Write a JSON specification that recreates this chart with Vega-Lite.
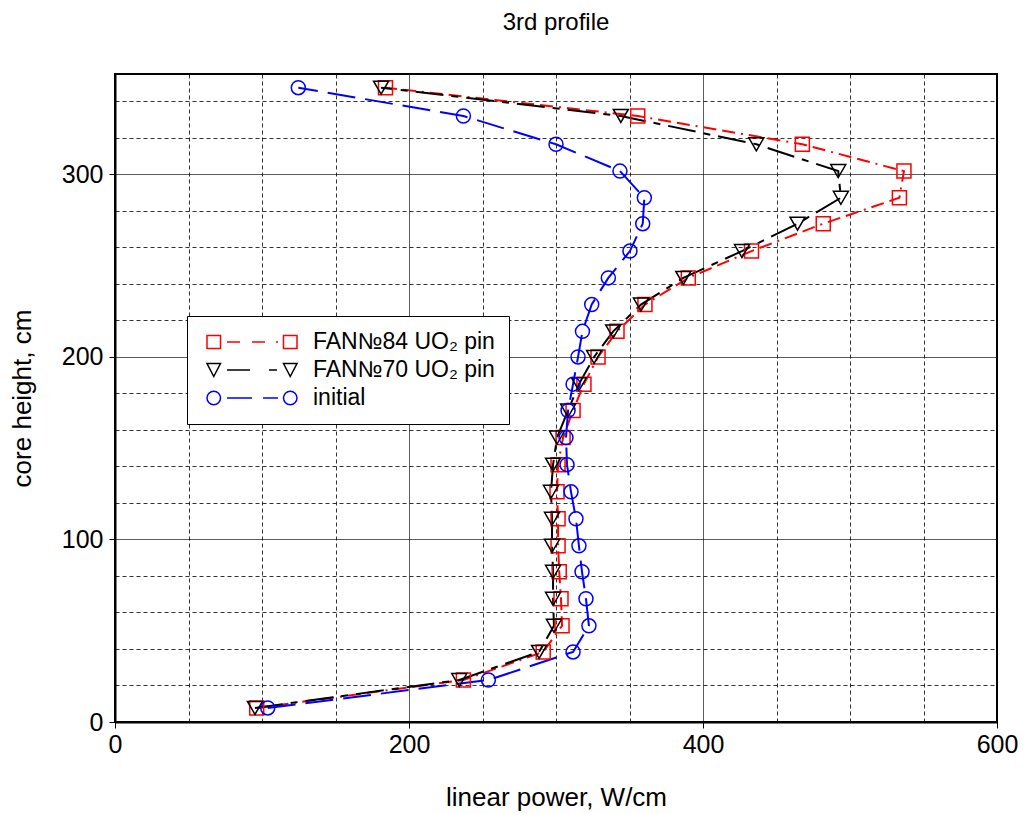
{
  "$schema": "https://vega.github.io/schema/vega-lite/v6.json",
  "width": 882,
  "height": 648,
  "autosize": {"type": "none"},
  "padding": {"left": 115, "top": 74, "right": 27, "bottom": 92},
  "background": "white",
  "title": {"text": "3rd profile", "fontSize": 24, "font": "Liberation Sans", "fontWeight": "normal", "anchor": "middle", "baseline": "bottom", "offset": 15, "color": "black"},
  "config": {
    "view": {"stroke": "black", "strokeWidth": 2},
    "axis": {
      "labelFont": "Liberation Sans", "labelFontSize": 25, "labelColor": "black",
      "titleFont": "Liberation Sans", "titleFontSize": 26, "titleFontWeight": "normal", "titleColor": "black",
      "domainColor": "black", "domainWidth": 2, "tickColor": "black", "tickWidth": 1,
      "gridColor": "black", "gridWidth": 1, "gridOpacity": 0.8,
      "labelFlush": false, "labelOverlap": false
    }
  },
  "datasets": {
    "profile": [
      {"series": "FAN№84 UO₂ pin", "height": 7.7, "power": 96.4},
      {"series": "FAN№84 UO₂ pin", "height": 23.0, "power": 237.0},
      {"series": "FAN№84 UO₂ pin", "height": 38.4, "power": 291.3},
      {"series": "FAN№84 UO₂ pin", "height": 52.7, "power": 304.1},
      {"series": "FAN№84 UO₂ pin", "height": 67.5, "power": 303.4},
      {"series": "FAN№84 UO₂ pin", "height": 82.3, "power": 302.2},
      {"series": "FAN№84 UO₂ pin", "height": 96.5, "power": 301.4},
      {"series": "FAN№84 UO₂ pin", "height": 111.3, "power": 301.4},
      {"series": "FAN№84 UO₂ pin", "height": 126.1, "power": 300.7},
      {"series": "FAN№84 UO₂ pin", "height": 141.0, "power": 301.4},
      {"series": "FAN№84 UO₂ pin", "height": 155.8, "power": 304.8},
      {"series": "FAN№84 UO₂ pin", "height": 170.6, "power": 311.6},
      {"series": "FAN№84 UO₂ pin", "height": 185.1, "power": 319.0},
      {"series": "FAN№84 UO₂ pin", "height": 200.0, "power": 328.6},
      {"series": "FAN№84 UO₂ pin", "height": 214.0, "power": 341.5},
      {"series": "FAN№84 UO₂ pin", "height": 228.7, "power": 360.5},
      {"series": "FAN№84 UO₂ pin", "height": 243.3, "power": 390.0},
      {"series": "FAN№84 UO₂ pin", "height": 258.0, "power": 433.0},
      {"series": "FAN№84 UO₂ pin", "height": 273.0, "power": 481.8},
      {"series": "FAN№84 UO₂ pin", "height": 287.2, "power": 533.6},
      {"series": "FAN№84 UO₂ pin", "height": 301.8, "power": 536.7},
      {"series": "FAN№84 UO₂ pin", "height": 316.5, "power": 467.6},
      {"series": "FAN№84 UO₂ pin", "height": 332.0, "power": 355.6},
      {"series": "FAN№84 UO₂ pin", "height": 347.5, "power": 184.0},
      {"series": "FAN№70 UO₂ pin", "height": 7.7, "power": 95.2},
      {"series": "FAN№70 UO₂ pin", "height": 23.0, "power": 234.2},
      {"series": "FAN№70 UO₂ pin", "height": 38.4, "power": 288.5},
      {"series": "FAN№70 UO₂ pin", "height": 52.7, "power": 298.6},
      {"series": "FAN№70 UO₂ pin", "height": 67.5, "power": 298.0},
      {"series": "FAN№70 UO₂ pin", "height": 82.3, "power": 298.0},
      {"series": "FAN№70 UO₂ pin", "height": 96.5, "power": 297.3},
      {"series": "FAN№70 UO₂ pin", "height": 111.3, "power": 297.3},
      {"series": "FAN№70 UO₂ pin", "height": 126.1, "power": 296.6},
      {"series": "FAN№70 UO₂ pin", "height": 141.0, "power": 298.0},
      {"series": "FAN№70 UO₂ pin", "height": 155.8, "power": 300.7},
      {"series": "FAN№70 UO₂ pin", "height": 170.6, "power": 308.2},
      {"series": "FAN№70 UO₂ pin", "height": 185.1, "power": 315.6},
      {"series": "FAN№70 UO₂ pin", "height": 200.0, "power": 325.9},
      {"series": "FAN№70 UO₂ pin", "height": 214.0, "power": 338.9},
      {"series": "FAN№70 UO₂ pin", "height": 228.7, "power": 357.8},
      {"series": "FAN№70 UO₂ pin", "height": 243.3, "power": 386.6},
      {"series": "FAN№70 UO₂ pin", "height": 258.0, "power": 426.5},
      {"series": "FAN№70 UO₂ pin", "height": 273.0, "power": 464.3},
      {"series": "FAN№70 UO₂ pin", "height": 287.2, "power": 493.8},
      {"series": "FAN№70 UO₂ pin", "height": 301.8, "power": 492.0},
      {"series": "FAN№70 UO₂ pin", "height": 316.5, "power": 436.3},
      {"series": "FAN№70 UO₂ pin", "height": 332.0, "power": 344.1},
      {"series": "FAN№70 UO₂ pin", "height": 347.5, "power": 181.0},
      {"series": "initial", "height": 7.7, "power": 103.9},
      {"series": "initial", "height": 23.0, "power": 254.0},
      {"series": "initial", "height": 38.4, "power": 311.6},
      {"series": "initial", "height": 52.7, "power": 322.4},
      {"series": "initial", "height": 67.5, "power": 320.4},
      {"series": "initial", "height": 82.3, "power": 317.7},
      {"series": "initial", "height": 96.5, "power": 315.6},
      {"series": "initial", "height": 111.3, "power": 313.6},
      {"series": "initial", "height": 126.1, "power": 310.2},
      {"series": "initial", "height": 141.0, "power": 307.5},
      {"series": "initial", "height": 155.8, "power": 306.8},
      {"series": "initial", "height": 170.6, "power": 308.2},
      {"series": "initial", "height": 185.1, "power": 311.6},
      {"series": "initial", "height": 200.0, "power": 315.0},
      {"series": "initial", "height": 214.0, "power": 318.0},
      {"series": "initial", "height": 228.7, "power": 324.3},
      {"series": "initial", "height": 243.3, "power": 335.6},
      {"series": "initial", "height": 258.0, "power": 350.3},
      {"series": "initial", "height": 273.0, "power": 359.0},
      {"series": "initial", "height": 287.2, "power": 360.1},
      {"series": "initial", "height": 301.8, "power": 343.5},
      {"series": "initial", "height": 316.5, "power": 300.0},
      {"series": "initial", "height": 332.0, "power": 237.0},
      {"series": "initial", "height": 347.5, "power": 124.7}
    ]
  },
  "data": {"name": "profile"},
  "encoding": {
    "x": {
      "field": "power", "type": "quantitative",
      "scale": {"domain": [0, 600], "nice": false, "zero": false},
      "axis": {
        "title": "linear power, W/cm",
        "values": [0, 50, 100, 150, 200, 250, 300, 350, 400, 450, 500, 550, 600],
        "labelExpr": "datum.value % 200 === 0 ? datum.label : ''",
        "grid": true,
        "gridDash": {"condition": {"test": "datum.value % 200 === 0", "value": [1, 0]}, "value": [4, 3]},
        "tickSize": {"condition": {"test": "datum.value % 200 === 0", "value": 6}, "value": 0},
        "labelPadding": 4,
        "titlePadding": 27
      }
    },
    "y": {
      "field": "height", "type": "quantitative",
      "scale": {"domain": [0, 355], "nice": false, "zero": false},
      "axis": {
        "title": "core height, cm",
        "values": [0, 20, 40, 60, 80, 100, 120, 140, 160, 180, 200, 220, 240, 260, 280, 300, 320, 340],
        "labelExpr": "datum.value % 100 === 0 ? datum.label : ''",
        "grid": true,
        "gridDash": {"condition": {"test": "datum.value % 100 === 0", "value": [1, 0]}, "value": [4, 3]},
        "tickSize": {"condition": {"test": "datum.value % 100 === 0", "value": 6}, "value": 0},
        "labelPadding": 6,
        "titlePadding": 26
      }
    }
  },
  "layer": [
    {
      "transform": [{"filter": {"field": "series", "equal": "FAN№84 UO₂ pin"}}],
      "mark": {"type": "line", "color": "red", "strokeWidth": 2, "strokeDash": [13, 6, 13, 6, 2, 6]},
      "encoding": {"order": {"field": "height", "type": "quantitative"}}
    },
    {
      "transform": [{"filter": {"field": "series", "equal": "FAN№70 UO₂ pin"}}],
      "mark": {"type": "line", "color": "black", "strokeWidth": 2, "strokeDash": [28, 8, 7, 8]},
      "encoding": {"order": {"field": "height", "type": "quantitative"}}
    },
    {
      "transform": [{"filter": {"field": "series", "equal": "initial"}}],
      "mark": {"type": "line", "color": "blue", "strokeWidth": 2, "strokeDash": [28, 10]},
      "encoding": {"order": {"field": "height", "type": "quantitative"}}
    },
    {
      "transform": [{"filter": {"field": "series", "equal": "FAN№84 UO₂ pin"}}],
      "mark": {"type": "point", "shape": "square", "filled": false, "color": "red", "size": 196, "strokeWidth": 1.5, "opacity": 1},
      "encoding": {}
    },
    {
      "transform": [{"filter": {"field": "series", "equal": "FAN№70 UO₂ pin"}}],
      "mark": {"type": "point", "shape": "triangle-down", "filled": false, "color": "black", "size": 225, "strokeWidth": 1.5, "opacity": 1},
      "encoding": {}
    },
    {
      "transform": [{"filter": {"field": "series", "equal": "initial"}}],
      "mark": {"type": "point", "shape": "circle", "filled": false, "color": "blue", "size": 196, "strokeWidth": 1.5, "opacity": 1},
      "encoding": {}
    },
    {
      "mark": {"type": "point", "filled": false, "opacity": 0, "size": 1},
      "encoding": {
        "color": {
          "field": "series", "type": "nominal",
          "scale": {"domain": ["FAN№84 UO₂ pin", "FAN№70 UO₂ pin", "initial"], "range": ["red", "black", "blue"]},
          "legend": {
            "title": null, "orient": "none", "legendX": 72, "legendY": 242, "direction": "vertical",
            "padding": 14, "strokeColor": "black", "fillColor": "white",
            "symbolSize": 8100, "symbolStrokeWidth": 1.5, "symbolOffset": 5, "symbolOpacity": 1,
            "clipHeight": 24, "rowPadding": 4, "labelOffset": 15,
            "labelFont": "Liberation Sans", "labelFontSize": 23, "labelColor": "black", "labelLimit": 400,
            "encode": {"symbols": {"update": {"fill": {"value": "transparent"}, "opacity": {"value": 1}}}}
          }
        },
        "shape": {
          "field": "series", "type": "nominal",
          "scale": {
            "domain": ["FAN№84 UO₂ pin", "FAN№70 UO₂ pin", "initial"],
            "range": [
              "M-1,-0.144H-0.7V0.144H-1Z M-0.556,0H-0.267 M0,0H0.289 M0.533,0H0.578 M0.7,-0.144H1V0.144H0.7Z",
              "M-1,-0.144L-0.7,-0.144L-0.85,0.144Z M-0.556,0H-0.044 M0.378,0H0.556 M0.7,-0.144L1,-0.144L0.85,0.144Z",
              "M-1,0A0.15,0.15 0 1,0 -0.7,0A0.15,0.15 0 1,0 -1,0Z M-0.556,0H0 M0.244,0H0.578 M0.7,0A0.15,0.15 0 1,0 1,0A0.15,0.15 0 1,0 0.7,0Z"
            ]
          },
          "legend": {
            "title": null, "orient": "none", "legendX": 72, "legendY": 242, "direction": "vertical",
            "padding": 14, "strokeColor": "black", "fillColor": "white",
            "symbolSize": 8100, "symbolStrokeWidth": 1.5, "symbolOffset": 5, "symbolOpacity": 1,
            "clipHeight": 24, "rowPadding": 4, "labelOffset": 15,
            "labelFont": "Liberation Sans", "labelFontSize": 23, "labelColor": "black", "labelLimit": 400,
            "encode": {"symbols": {"update": {"fill": {"value": "transparent"}, "opacity": {"value": 1}}}}
          }
        }
      }
    }
  ]
}
